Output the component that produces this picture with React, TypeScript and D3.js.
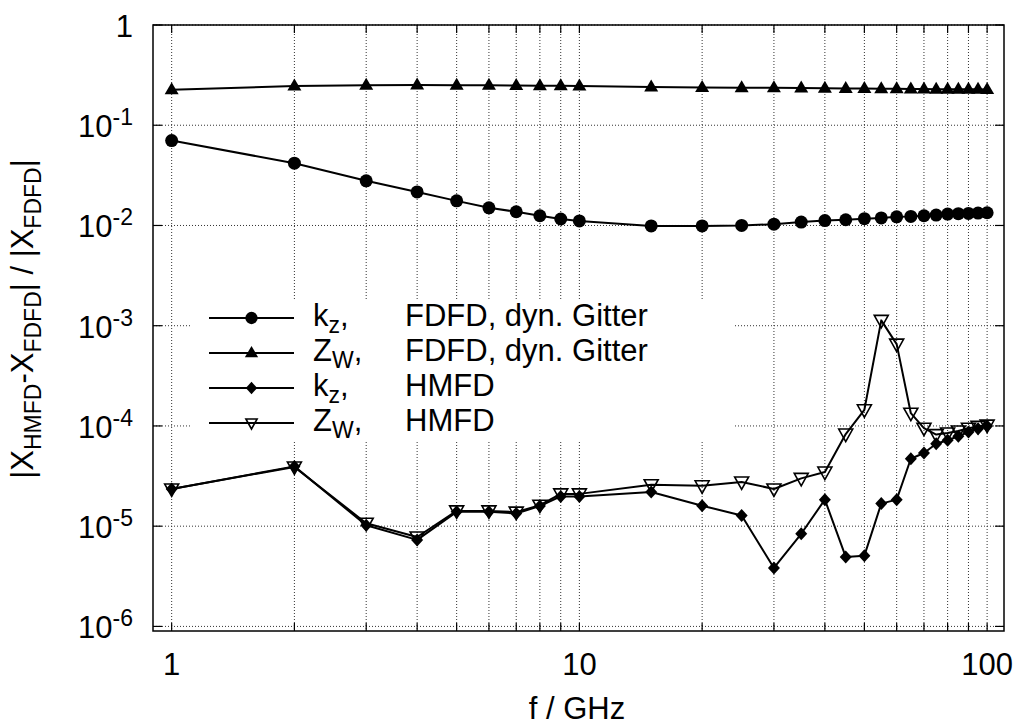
import React from 'react';
import * as d3 from 'd3';

// Frequency sample points in GHz
const freqs = [1, 2, 3, 4, 5, 6, 7, 8, 9, 10, 15, 20, 25, 30, 35, 40, 45, 50, 55, 60, 65, 70, 75, 80, 85, 90, 95, 100];

// Relative error of k_z, FDFD with dynamic grid
const kzFdfd = [0.0703, 0.0418, 0.0279, 0.0216, 0.0176, 0.015, 0.0137, 0.0125, 0.0116, 0.0111, 0.0099, 0.0099, 0.0100, 0.0103, 0.0108, 0.0112, 0.0114, 0.0117, 0.0119, 0.0122, 0.0123, 0.0125, 0.0127, 0.0130, 0.0131, 0.0132, 0.0133, 0.0134];
// Relative error of Z_W, FDFD with dynamic grid
const zwFdfd = [0.226, 0.246, 0.25, 0.252, 0.251, 0.25, 0.249, 0.248, 0.247, 0.246, 0.241, 0.238, 0.237, 0.236, 0.235, 0.234, 0.233, 0.232, 0.231, 0.231, 0.23, 0.23, 0.229, 0.229, 0.228, 0.228, 0.228, 0.227];
// Relative error of k_z, HMFD
const kzHmfd = [2.35e-5, 3.95e-5, 1.02e-5, 7.3e-6, 1.39e-5, 1.39e-5, 1.34e-5, 1.59e-5, 1.98e-5, 1.98e-5, 2.19e-5, 1.6e-5, 1.28e-5, 3.83e-6, 8.4e-6, 1.84e-5, 4.93e-6, 5.08e-6, 1.68e-5, 1.84e-5, 4.71e-5, 5.37e-5, 6.64e-5, 7.2e-5, 7.9e-5, 8.7e-5, 9.4e-5, 1.0e-4];
// Relative error of Z_W, HMFD
const zwHmfd = [2.35e-5, 3.9e-5, 1.07e-5, 7.8e-6, 1.42e-5, 1.42e-5, 1.38e-5, 1.62e-5, 2.1e-5, 2.1e-5, 2.59e-5, 2.53e-5, 2.76e-5, 2.35e-5, 3.0e-5, 3.47e-5, 8.3e-5, 1.45e-4, 1.13e-3, 6.55e-4, 1.34e-4, 9.5e-5, 8.2e-5, 8.5e-5, 8.9e-5, 9.5e-5, 9.9e-5, 1.02e-4];

const yExponents = [-6, -5, -4, -3, -2, -1, 0];
const xMajorTicks = [1, 10, 100];
const xGridTicks = [1, 2, 3, 4, 5, 6, 7, 8, 9, 10, 20, 30, 40, 50, 60, 70, 80, 90, 100];

const FONT = '"Liberation Sans", Arial, Helvetica, sans-serif';
const FS = 31;
const FS_SMALL = 23;

const left = 153, right = 1004, top = 25, bottom = 631;
const x = d3.scaleLog().domain([0.9, 110]).range([left, right]);
const y = d3.scaleLog().domain([9e-7, 1]).range([bottom, top]);

type Marker = 'circle' | 'triangle' | 'diamond' | 'itriangle';

function MarkerShape({ kind, cx, cy, s = 1 }: { kind: Marker; cx: number; cy: number; s?: number }) {
  if (kind === 'circle') return <circle cx={cx} cy={cy} r={6.5 * s} fill="#000" />;
  if (kind === 'triangle')
    return <path d={`M${cx},${cy - 7.5 * s}L${cx + 7 * s},${cy + 4.5 * s}L${cx - 7 * s},${cy + 4.5 * s}Z`} fill="#000" />;
  if (kind === 'diamond')
    return <path d={`M${cx},${cy - 6.5 * s}L${cx + 6 * s},${cy}L${cx},${cy + 6.5 * s}L${cx - 6 * s},${cy}Z`} fill="#000" />;
  return (
    <path
      d={`M${cx - 7 * s},${cy - 5 * s}L${cx + 7 * s},${cy - 5 * s}L${cx},${cy + 7.5 * s}Z`}
      fill="none"
      stroke="#000"
      strokeWidth={1.6}
      strokeLinejoin="miter"
    />
  );
}

const series: { values: number[]; marker: Marker; quantity: string; sub: string; method: string }[] = [
  { values: kzFdfd, marker: 'circle', quantity: 'k', sub: 'z', method: 'FDFD, dyn. Gitter' },
  { values: zwFdfd, marker: 'triangle', quantity: 'Z', sub: 'W', method: 'FDFD, dyn. Gitter' },
  { values: kzHmfd, marker: 'diamond', quantity: 'k', sub: 'z', method: 'HMFD' },
  { values: zwHmfd, marker: 'itriangle', quantity: 'Z', sub: 'W', method: 'HMFD' },
];

export default function App() {
  const line = d3
    .line<number>()
    .x((_, i) => x(freqs[i]))
    .y((d) => y(d));

  const legendY0 = 318;
  const legendStep = 35;

  return (
    <svg
      width={1015}
      height={725}
      style={{ position: 'absolute', left: 0, top: 0, background: '#fff' }}
      fontFamily={FONT}
    >
      <rect x={0} y={0} width={1015} height={725} fill="#fff" />

      {/* grid */}
      <g stroke="#333" strokeWidth={1} strokeDasharray="1,2">
        {xGridTicks.map((t) => (
          <line key={`gx${t}`} x1={x(t)} x2={x(t)} y1={top} y2={bottom} />
        ))}
        {yExponents.map((e) => (
          <line key={`gy${e}`} x1={left} x2={right} y1={y(Math.pow(10, e))} y2={y(Math.pow(10, e))} />
        ))}
      </g>

      {/* tick marks */}
      <g stroke="#000" strokeWidth={1.2}>
        {xGridTicks.map((t) => (
          <g key={`tx${t}`}>
            <line x1={x(t)} x2={x(t)} y1={bottom} y2={bottom - 8} />
            <line x1={x(t)} x2={x(t)} y1={top} y2={top + 8} />
          </g>
        ))}
        {yExponents.map((e) => (
          <g key={`ty${e}`}>
            <line x1={left} x2={left + 9} y1={y(Math.pow(10, e))} y2={y(Math.pow(10, e))} />
            <line x1={right} x2={right - 9} y1={y(Math.pow(10, e))} y2={y(Math.pow(10, e))} />
          </g>
        ))}
      </g>

      {/* legend background */}
      <rect x={190} y={300} width={545} height={140} fill="#fff" />

      {/* data */}
      {series.map((s, si) => (
        <g key={`s${si}`}>
          <path d={line(s.values) || ''} fill="none" stroke="#000" strokeWidth={2} strokeLinejoin="round" />
          {s.values.map((v, i) => (
            <MarkerShape key={i} kind={s.marker} cx={x(freqs[i])} cy={y(v)} />
          ))}
        </g>
      ))}

      {/* frame */}
      <rect x={left} y={top} width={right - left} height={bottom - top} fill="none" stroke="#000" strokeWidth={1.5} />

      {/* y tick labels */}
      <g fontSize={FS} fill="#000" textAnchor="end">
        {yExponents.map((e) => (
          <text key={`ly${e}`} x={133} y={y(Math.pow(10, e)) + 12}>
            {e === 0 ? (
              '1'
            ) : (
              <>
                <tspan>10</tspan>
                <tspan fontSize={FS_SMALL} dy={-12}>{`${e}`}</tspan>
              </>
            )}
          </text>
        ))}
      </g>

      {/* x tick labels */}
      <g fontSize={FS} fill="#000" textAnchor="middle">
        {xMajorTicks.map((t) => (
          <text key={`lx${t}`} x={x(t)} y={675}>
            {t}
          </text>
        ))}
      </g>

      {/* axis titles */}
      <text x={577} y={719} fontSize={FS} textAnchor="middle" fill="#000">
        f / GHz
      </text>
      <text transform="translate(33,319) rotate(-90)" fontSize={FS} textAnchor="middle" fill="#000">
        <tspan>|X</tspan>
        <tspan fontSize={FS_SMALL} dy={8}>HMFD</tspan>
        <tspan dy={-8}>-X</tspan>
        <tspan fontSize={FS_SMALL} dy={8}>FDFD</tspan>
        <tspan dy={-8}>| / |X</tspan>
        <tspan fontSize={FS_SMALL} dy={8}>FDFD</tspan>
        <tspan dy={-8}>|</tspan>
      </text>

      {/* legend */}
      {series.map((s, si) => {
        const ly = legendY0 + si * legendStep;
        return (
          <g key={`lg${si}`}>
            <line x1={209} x2={294} y1={ly} y2={ly} stroke="#000" strokeWidth={2} />
            <MarkerShape kind={s.marker} cx={251.5} cy={ly} s={s.marker === 'itriangle' ? 0.8 : 0.95} />
            <text x={313} y={ly + 8} fontSize={FS} fill="#000">
              <tspan>{s.quantity}</tspan>
              <tspan fontSize={FS_SMALL} dy={7}>{s.sub}</tspan>
              <tspan dy={-7}>,</tspan>
            </text>
            <text x={405} y={ly + 8} fontSize={FS} fill="#000">
              {s.method}
            </text>
          </g>
        );
      })}
    </svg>
  );
}
